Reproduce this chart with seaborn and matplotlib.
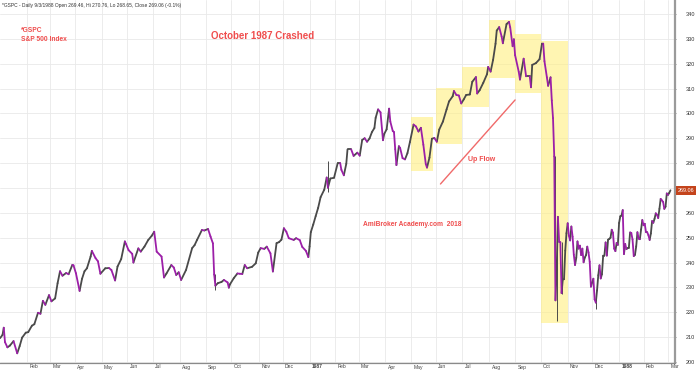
import numpy as np
import pandas as pd
import matplotlib
matplotlib.use("Agg")
import matplotlib.pyplot as plt
import matplotlib.transforms as mtrans
import seaborn as sns

sns.set_theme(style="white")
plt.rcParams["font.family"] = ["Liberation Sans", "DejaVu Sans"]

# ---------------- data ----------------
HOLIDAYS = ["1986-01-01", "1986-02-17", "1986-03-28", "1986-05-26", "1986-07-04",
            "1986-09-01", "1986-11-27", "1986-12-25", "1987-01-01", "1987-02-16",
            "1987-04-17", "1987-05-25", "1987-07-03", "1987-09-07", "1987-11-26",
            "1987-12-25", "1988-01-01", "1988-02-15"]

DATES_1986 = ["01-02", "01-06", "01-07", "01-08", "01-10", "01-14", "01-17", "01-22", "01-24", "01-28", "01-31",
              "02-04", "02-07", "02-11", "02-14", "02-19", "02-21", "02-25", "02-28",
              "03-04", "03-07", "03-11", "03-13", "03-17", "03-20", "03-24", "03-27", "03-31",
              "04-02", "04-07", "04-09", "04-11", "04-15", "04-18", "04-21", "04-24", "04-28", "04-30",
              "05-06", "05-09", "05-13", "05-16", "05-20", "05-23", "05-29", "05-30",
              "06-03", "06-06", "06-09", "06-13", "06-17", "06-20", "06-25", "06-30",
              "07-02", "07-07", "07-11", "07-15", "07-17", "07-23", "07-25", "07-29", "07-31",
              "08-04", "08-08", "08-15", "08-19", "08-21", "08-27", "08-29",
              "09-04", "09-08", "09-10", "09-11", "09-12", "09-16", "09-19", "09-23", "09-26", "09-29", "09-30",
              "10-03", "10-08", "10-10", "10-14", "10-16", "10-20", "10-24", "10-29", "10-31",
              "11-04", "11-07", "11-11", "11-14", "11-18", "11-21", "11-25", "11-28",
              "12-02", "12-04", "12-08", "12-12", "12-16", "12-19", "12-23", "12-29", "12-31"]
CLOSE_1986 = [209.6, 210.9, 213.8, 208.0, 205.9, 206.6, 208.4, 203.5, 206.4, 209.8, 211.8,
              212.0, 214.6, 215.2, 219.8, 219.4, 224.6, 223.0, 226.9,
              224.4, 225.6, 231.7, 236.5, 234.7, 235.8, 235.3, 239.0, 238.9,
              235.7, 228.6, 233.5, 236.5, 237.7, 242.4, 244.7, 241.8, 240.5, 235.5,
              237.7, 237.8, 237.0, 232.8, 238.4, 241.4, 248.5, 247.4,
              245.0, 243.5, 240.0, 245.7, 244.4, 246.4, 249.0, 250.8,
              252.4, 244.4, 242.4, 234.0, 235.6, 239.0, 238.0, 235.0, 236.1,
              233.0, 237.0, 245.8, 247.0, 249.1, 253.1, 252.9,
              253.5, 250.5, 247.7, 235.2, 230.7, 231.7, 232.2, 233.0, 232.0, 229.9, 231.3,
              233.7, 235.6, 235.5, 235.4, 239.0, 237.7, 238.3, 239.7, 244.0,
              245.8, 245.5, 246.4, 243.7, 236.4, 247.8, 248.2, 249.2,
              253.8, 252.4, 249.8, 249.1, 249.8, 249.0, 246.3, 244.7, 242.2]

DATES_1987 = ["01-02", "01-05", "01-07", "01-09", "01-13", "01-15", "01-20", "01-22", "01-23", "01-27", "01-30",
              "02-04", "02-06", "02-09", "02-11", "02-13", "02-17", "02-20", "02-24", "02-27",
              "03-03", "03-05", "03-09", "03-11", "03-13", "03-17", "03-19", "03-20", "03-24", "03-26", "03-30", "03-31",
              "04-02", "04-06", "04-07", "04-09", "04-10", "04-13", "04-14", "04-16", "04-20", "04-22", "04-24", "04-28", "04-30",
              "05-05", "05-07", "05-11", "05-13", "05-15", "05-19", "05-20", "05-22", "05-27", "05-29",
              "06-02", "06-04", "06-09", "06-12", "06-16", "06-19", "06-22", "06-24", "06-26", "06-30",
              "07-02", "07-07", "07-10", "07-14", "07-17", "07-20", "07-22", "07-27", "07-30", "07-31",
              "08-04", "08-06", "08-10", "08-11", "08-13", "08-17", "08-18", "08-21", "08-25", "08-26", "08-28", "08-31",
              "09-01", "09-04", "09-08", "09-11", "09-15", "09-18", "09-21", "09-22", "09-25", "09-30",
              "10-02", "10-05", "10-06", "10-08", "10-09", "10-13", "10-14", "10-15", "10-16", "10-19", "10-20",
              "10-21", "10-22", "10-23", "10-26", "10-27", "10-28", "10-29", "10-30",
              "11-02", "11-03", "11-04", "11-05", "11-06", "11-09", "11-10", "11-11", "11-12", "11-13", "11-16",
              "11-17", "11-18", "11-19", "11-20", "11-23", "11-24", "11-25", "11-27", "11-30",
              "12-01", "12-02", "12-03", "12-04", "12-07", "12-08", "12-09", "12-10", "12-11", "12-14", "12-15",
              "12-16", "12-17", "12-18", "12-21", "12-22", "12-23", "12-24", "12-28", "12-29", "12-30", "12-31"]
CLOSE_1987 = [246.5, 252.2, 255.3, 258.7, 262.0, 266.3, 269.3, 274.2, 270.1, 273.8, 274.1,
              280.0, 280.0, 277.3, 275.1, 279.7, 285.5, 285.5, 282.9, 284.2,
              283.0, 289.3, 290.0, 288.6, 289.9, 292.5, 294.1, 298.2, 301.6, 300.4, 289.2, 291.7,
              293.6, 301.9, 296.7, 292.9, 292.5, 285.6, 279.2, 286.8, 286.1, 282.0, 281.5, 284.0, 288.4,
              295.5, 294.7, 292.7, 294.2, 287.4, 279.6, 278.2, 282.2, 289.8, 290.1,
              288.6, 293.5, 296.7, 301.6, 304.8, 306.9, 309.0, 307.4, 307.2, 304.0,
              305.6, 307.4, 307.6, 312.7, 314.6, 308.0, 309.3, 312.3, 315.7, 318.7,
              316.8, 321.5, 328.0, 333.3, 334.7, 330.9, 328.2, 335.9, 336.8, 334.6, 327.0, 329.8,
              323.4, 316.7, 313.6, 322.0, 314.9, 314.9, 310.5, 319.5, 320.2, 321.8,
              328.1, 328.1, 321.0, 314.5, 311.1, 314.5, 305.2, 298.1, 282.7, 224.8, 236.8,
              258.4, 248.3, 248.2, 227.7, 233.2, 233.3, 244.8, 251.8,
              255.8, 250.8, 248.9, 254.5, 250.4, 243.2, 239.0, 241.9, 248.5, 245.6, 246.8,
              243.0, 245.6, 240.1, 242.0, 243.0, 246.4, 244.1, 240.3, 230.3,
              232.0, 233.5, 225.2, 223.9, 228.8, 234.9, 238.9, 233.6, 235.3, 242.8, 242.8,
              248.1, 242.8, 249.2, 249.5, 250.0, 253.2, 252.0, 245.6, 244.6, 247.9, 247.1]

DATES_1988 = ["01-04", "01-05", "01-06", "01-07", "01-08", "01-11", "01-12", "01-13", "01-14", "01-15",
              "01-18", "01-19", "01-20", "01-21", "01-22", "01-25", "01-26", "01-27", "01-28", "01-29",
              "02-01", "02-02", "02-03", "02-04", "02-05", "02-08", "02-09", "02-10", "02-11", "02-12",
              "02-16", "02-17", "02-18", "02-19", "02-22", "02-23", "02-24", "02-25", "02-26", "02-29",
              "03-01", "03-02", "03-03"]
CLOSE_1988 = [255.9, 258.6, 258.9, 261.1, 243.4, 247.5, 245.4, 245.8, 245.9, 252.1,
              251.9, 249.3, 242.6, 243.1, 246.5, 252.2, 249.6, 249.4, 253.3, 257.1,
              255.0, 255.6, 252.2, 252.2, 251.0, 249.1, 251.7, 256.7, 256.0, 257.6,
              259.8, 259.2, 257.9, 261.6, 265.6, 265.0, 264.4, 261.6, 262.5, 267.8,
              267.2, 268.0, 269.06]

# a few visible high-low wicks
WICK_DATES = ["1987-01-23", "1987-10-19", "1987-10-20", "1987-10-26", "1987-12-04", "1986-09-12"]
WICK_LOW = [268.4, 224.8, 216.5, 227.3, 221.2, 228.8]
WICK_HIGH = [280.9, 282.7, 245.6, 248.2, 226.0, 235.2]

# highlighted monthly boxes
RECT_START = ["1987-05-01", "1987-06-01", "1987-07-01", "1987-08-03", "1987-09-01", "1987-10-01"]
RECT_END = ["1987-05-28", "1987-07-01", "1987-08-03", "1987-09-01", "1987-10-01", "1987-11-02"]
RECT_LOW = [276.8, 287.7, 302.6, 314.3, 308.2, 215.7]
RECT_HIGH = [298.6, 310.2, 318.7, 337.6, 332.0, 329.1]

# "Up Flow" trend line
FLOW_DATES = ["1987-06-05", "1987-09-01"]
FLOW_VALUES = [271.6, 305.4]

MONTH_NAMES = ["Jan", "Feb", "Mar", "Apr", "May", "Jun", "Jul", "Aug", "Sep", "Oct", "Nov", "Dec"]
Y_TICKS = list(range(200, 341, 10))
LAST_CLOSE = 269.06

# ---------------- positions (trading-day index) ----------------
tdays = pd.bdate_range("1986-01-02", "1988-03-03")
tdays = tdays[~tdays.isin(pd.to_datetime(HOLIDAYS))]


def pos(d):
    return int(tdays.searchsorted(pd.Timestamp(d)))


dates = ["1986-" + d for d in DATES_1986] + ["1987-" + d for d in DATES_1987] + ["1988-" + d for d in DATES_1988]
closes = CLOSE_1986 + CLOSE_1987 + CLOSE_1988
xs = [pos(d) for d in dates]

rows = []
for i in range(1, len(xs)):
    direction = "up" if closes[i] >= closes[i - 1] else "down"
    rows.append((i, xs[i - 1], closes[i - 1], direction))
    rows.append((i, xs[i], closes[i], direction))
seg = pd.DataFrame(rows, columns=["seg", "x", "y", "dir"])

GRAY = "#4a4a4a"
PURPLE = "#9c1fa8"
RED = "#ef4d4d"

W, H = 700, 370
fig = plt.figure(figsize=(W / 100, H / 100), dpi=100)
AX_RIGHT = 674.7
AX_BOTTOM = 363.0
ax = fig.add_axes([0, (H - AX_BOTTOM) / H, AX_RIGHT / W, AX_BOTTOM / H])

# month ticks
month_starts = pd.date_range("1986-02-01", "1988-03-01", freq="MS")
tick_pos = [pos(m) for m in month_starts]
tick_lab = [str(m.year) if m.month == 1 else MONTH_NAMES[m.month - 1] for m in month_starts]

p_feb = pos("1986-02-03")
p_mar = pos("1988-03-01")
ppi = (668 - 27) / (p_mar - p_feb)
ax.set_xlim(p_feb - 27 / ppi, p_feb + (AX_RIGHT - 27) / ppi)
ax.set_ylim(199.6, 345.6)

# highlight boxes
for s, e, lo, hi in zip(RECT_START, RECT_END, RECT_LOW, RECT_HIGH):
    ax.fill_between([pos(s), pos(e)], lo, hi, color="#ffef80", alpha=0.6, lw=0, zorder=1)

# price line
sns.lineplot(data=seg[seg["dir"] == "up"], x="x", y="y", units="seg", estimator=None,
             color=GRAY, lw=1.3, sort=False, ax=ax, zorder=3)
sns.lineplot(data=seg[seg["dir"] == "down"], x="x", y="y", units="seg", estimator=None,
             color=PURPLE, lw=1.3, sort=False, ax=ax, zorder=3)
ax.vlines([pos(d) for d in WICK_DATES], WICK_LOW, WICK_HIGH, color=GRAY, lw=0.7, zorder=2)

# up flow line
ax.plot([pos(d) for d in FLOW_DATES], FLOW_VALUES, color="#f06a6a", lw=1.0, zorder=4)

# axes styling
ax.set_xticks(tick_pos)
ax.set_yticks(Y_TICKS)
# the last-price tag covers the 270 label
ax.set_yticklabels(["" if v == 270 else str(v) for v in Y_TICKS])
ax.grid(True, color="#e9e9e9", lw=0.6, zorder=0)
ax.set_axisbelow(True)
ax.yaxis.tick_right()
ax.tick_params(axis="y", labelsize=4, labelcolor="#333333", length=2, direction="inout",
               color="#777777", pad=7.0, width=0.6)
ax.tick_params(axis="x", length=2, direction="out", color="#888888", width=0.5, labelbottom=False)
ax.set_xlabel("")
ax.set_ylabel("")
for side in ["left", "top"]:
    ax.spines[side].set_visible(False)
ax.spines["right"].set_color("#9a9a9a")
ax.spines["right"].set_linewidth(1.6)
ax.spines["bottom"].set_color("#8a8a8a")
ax.spines["bottom"].set_linewidth(0.9)

# x tick labels drawn manually (left aligned after tick)
trans_x = mtrans.blended_transform_factory(ax.transData, fig.transFigure)
for p, lab in zip(tick_pos, tick_lab):
    bold = lab.isdigit()
    ax.text(p + 2.2 / ppi, 1 - 367 / H, lab, transform=trans_x, ha="left", va="center",
            fontsize=3.6, color="#444444", fontweight="bold" if bold else "normal", clip_on=False)

# last price tag
trans_y = mtrans.blended_transform_factory(ax.transAxes, ax.transData)
ax.text(1.0045, LAST_CLOSE, f"{LAST_CLOSE:.2f}", transform=trans_y, ha="left", va="center",
        fontsize=4, color="white", clip_on=False, zorder=6,
        bbox=dict(boxstyle="square,pad=0.35", fc="#c4441c", ec="none"))

# texts
def ftext(x, y, s, **kw):
    fig.text(x / W, 1 - y / H, s, **kw)

ftext(2, 5, "*GSPC - Daily 9/3/1988 Open 269.46, Hi 270.76, Lo 268.65, Close 269.06 (-0.1%)",
      fontsize=3.5, color="#333333", ha="left", va="center")
ftext(21, 31, "*GSPC", fontsize=4.8, color=RED, fontweight="bold", ha="left", va="center")
ftext(21, 39.5, "S&P 500 Index", fontsize=4.8, color=RED, fontweight="bold", ha="left", va="center")
ftext(211, 36, "October 1987 Crashed", fontsize=7, color=RED, fontweight="bold", ha="left", va="center")
ftext(468, 159, "Up Flow", fontsize=5, color=RED, fontweight="bold", ha="left", va="center")
ftext(363, 224, "AmiBroker Academy.com  2018", fontsize=4.8, color=RED, fontweight="bold",
      ha="left", va="center")

fig.savefig("out.png", dpi=100, facecolor="white")
